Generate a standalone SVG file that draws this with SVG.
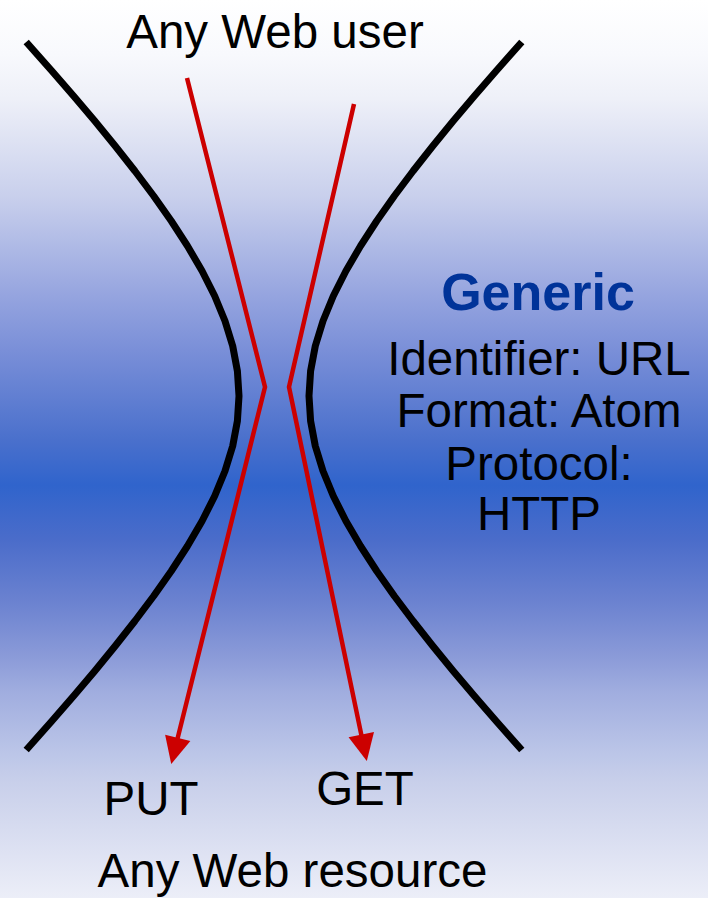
<svg xmlns="http://www.w3.org/2000/svg" width="708" height="898" viewBox="0 0 708 898">
  <defs>
    <linearGradient id="bg" x1="0" y1="0" x2="0" y2="1">
      <stop offset="0" stop-color="#ffffff"/>
      <stop offset="0.06" stop-color="#f8f9fd"/>
      <stop offset="0.11" stop-color="#eef0f8"/>
      <stop offset="0.22" stop-color="#c8cfec"/>
      <stop offset="0.33" stop-color="#95a4df"/>
      <stop offset="0.39" stop-color="#7a8fd8"/>
      <stop offset="0.49" stop-color="#4a70cc"/>
      <stop offset="0.54" stop-color="#3064cc"/>
      <stop offset="0.60" stop-color="#4a6cca"/>
      <stop offset="0.67" stop-color="#6b82d0"/>
      <stop offset="0.73" stop-color="#8a9ad8"/>
      <stop offset="0.77" stop-color="#a0addf"/>
      <stop offset="0.84" stop-color="#bcc6e8"/>
      <stop offset="0.87" stop-color="#c8cfea"/>
      <stop offset="1" stop-color="#eceef8"/>
    </linearGradient>
    <marker id="arrow" markerUnits="userSpaceOnUse" markerWidth="30" markerHeight="30" refX="1" refY="0" viewBox="0 -15 30 30" orient="auto" overflow="visible">
      <path d="M0,-13 L27,0 L0,13 z" fill="#cc0000"/>
    </marker>
  </defs>
  <style>
    .lbl { font-family: "Liberation Sans", Arial, sans-serif; font-size: 47.5px; fill: #000; text-anchor: middle; }
    .title { font-family: "Liberation Sans", Arial, sans-serif; font-size: 52px; font-weight: bold; fill: #003399; text-anchor: middle; }
    .funnel { fill: none; stroke: #000; stroke-width: 7; stroke-linejoin: round; }
    .flow { fill: none; stroke: #cc0000; stroke-width: 4.5; stroke-linejoin: miter; marker-end: url(#arrow); }
  </style>

  <rect x="0" y="0" width="708" height="898" fill="url(#bg)"/>

  <!-- hourglass walls: hyperbola branches around y = 396 -->
  <g id="funnel-left">
    <polyline class="funnel" points="26.2,42 51.9,71 73.6,96 94.8,121 115.2,146 134.9,171 153.7,196 171.3,221 187.5,246 202.1,271 214.7,296 225,321 232.7,346 237.4,371 239,396 237.4,421 232.7,446 225,471 214.7,496 202.1,521 187.5,546 171.3,571 153.7,596 134.9,621 115.2,646 94.8,671 73.6,696 51.9,721 26.2,750"/>
  </g>
  <g id="funnel-right">
    <polyline class="funnel" points="521.8,42 496.1,71 474.4,96 453.2,121 432.8,146 413.1,171 394.3,196 376.7,221 360.5,246 345.9,271 333.3,296 323,321 315.3,346 310.6,371 309,396 310.6,421 315.3,446 323,471 333.3,496 345.9,521 360.5,546 376.7,571 394.3,596 413.1,621 432.8,646 453.2,671 474.4,696 496.1,721 521.8,750"/>
  </g>

  <!-- request flows -->
  <g id="connectors">
    <polyline id="put-flow" class="flow" points="187,78 265,387 177.5,738.8"/>
    <polyline id="get-flow" class="flow" points="354,104 289,387 361.5,735.6"/>
  </g>

  <g id="user">
    <text class="lbl" x="275" y="48">Any Web user</text>
  </g>
  <g id="generic">
    <text class="title" x="538" y="310">Generic</text>
    <text class="lbl" x="539" y="375">Identifier: URL</text>
    <text class="lbl" x="539" y="427">Format: Atom</text>
    <text class="lbl" x="539" y="480">Protocol:</text>
    <text class="lbl" x="539" y="530">HTTP</text>
  </g>
  <g id="put">
    <text class="lbl" x="151" y="815">PUT</text>
  </g>
  <g id="get">
    <text class="lbl" x="365" y="805">GET</text>
  </g>
  <g id="resource">
    <text class="lbl" x="292.5" y="887">Any Web resource</text>
  </g>
</svg>
